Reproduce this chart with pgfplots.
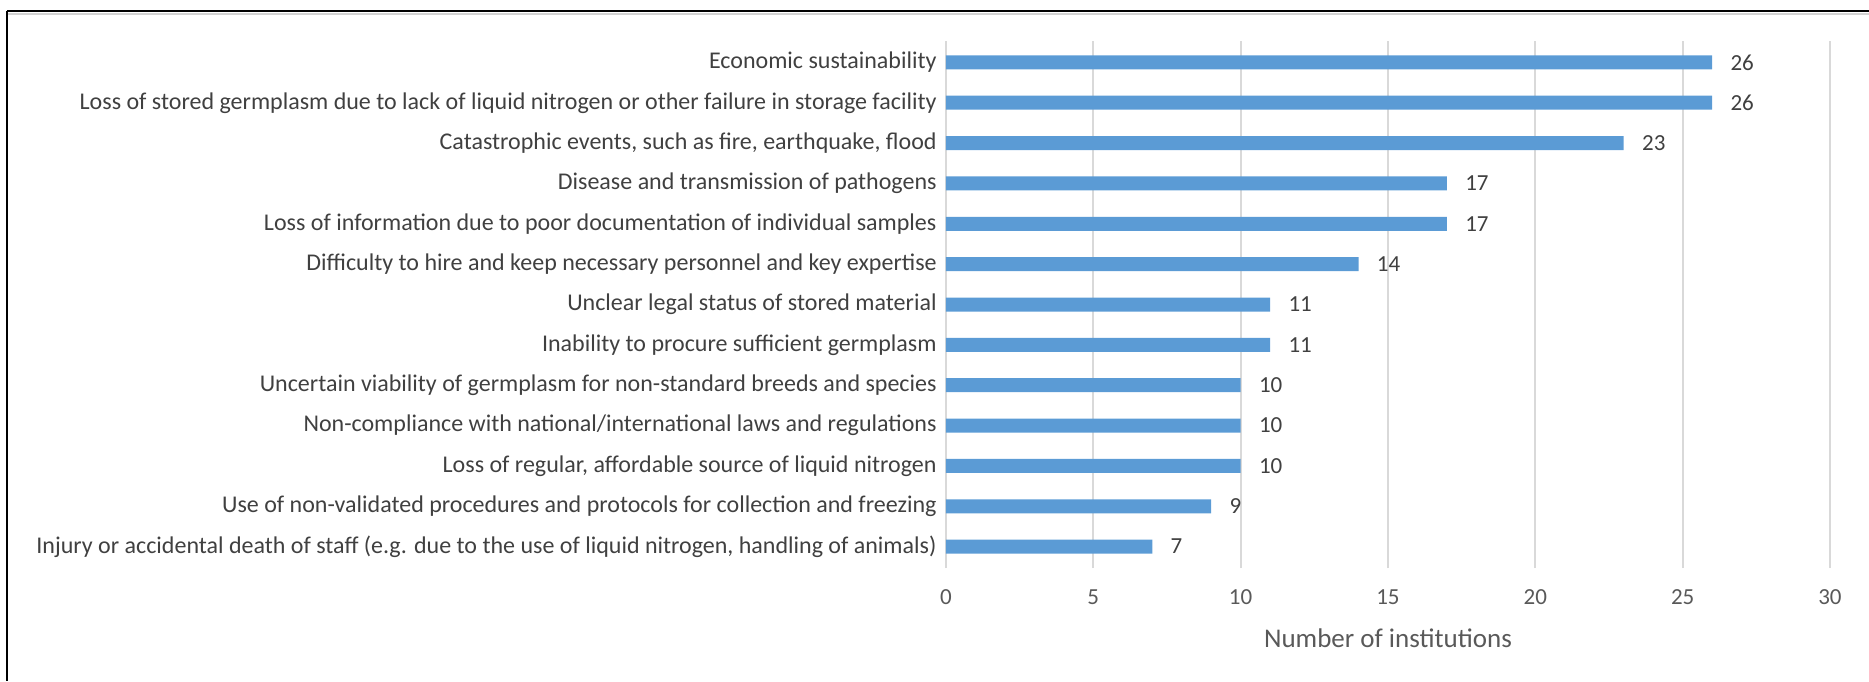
\documentclass[border=0pt]{standalone}
\usepackage{pgfplots}
\pgfplotsset{compat=1.18}
\usepackage{fontspec}
\setmainfont{Carlito}
\definecolor{txt}{HTML}{595959}
\definecolor{lab}{HTML}{404040}
\definecolor{barc}{HTML}{5B9BD5}
\definecolor{grd}{HTML}{D9D9D9}
\begin{document}
\begin{tikzpicture}
\begin{axis}[
  scale only axis, width=442pt, height=263.5pt,
  xbar, bar width=7pt,
  xmin=0, xmax=30, ymin=-0.53, ymax=12.53,
  xtick={0,5,...,30}, ytick={0,...,12},
  /pgf/number format/assume math mode=true,
  yticklabels={
    {Injury or accidental death of staff (e.g. due to the use of liquid nitrogen, handling of animals)},
    {Use of non-validated procedures and protocols for collection and freezing},
    {Loss of regular, affordable source of liquid nitrogen},
    {Non-compliance with national/international laws and regulations},
    {Uncertain viability of germplasm for non-standard breeds and species},
    {Inability to procure sufficient germplasm},
    {Unclear legal status of stored material},
    {Difficulty to hire and keep necessary personnel and key expertise},
    {Loss of information due to poor documentation of individual samples},
    {Disease and transmission of pathogens},
    {Catastrophic events, such as fire, earthquake, flood},
    {Loss of stored germplasm due to lack of liquid nitrogen or other failure in storage facility},
    {Economic sustainability}},
  axis lines*=left, axis line style={draw=none},
  major tick length=0pt,
  xmajorgrids, major grid style={draw=grd, line width=0.9pt},
  xticklabel style={font=\fontsize{11.5}{13}\selectfont, text=txt, anchor=center, yshift=-14.5pt},
  yticklabel style={font=\fontsize{12}{14}\selectfont, text=lab, anchor=east, inner sep=0pt, xshift=-4.5pt},
  xlabel={Number of institutions},
  xlabel style={font=\fontsize{13.5}{15}\selectfont, text=txt, at={(axis description cs:0.5,0)}, anchor=center, yshift=-35pt},
  nodes near coords,
  nodes near coords style={font=\fontsize{11.5}{13}\selectfont, text=lab, anchor=west, inner sep=0pt, xshift=9pt},
  clip=false,
]
\addplot[draw=none, fill=barc] coordinates {
  (7,0) (9,1) (10,2) (10,3) (10,4) (11,5) (11,6) (14,7) (17,8) (17,9) (23,10) (26,11) (26,12)
};
\end{axis}
\draw[gray!35, line width=0.8pt] (-469.5pt,277pt) -- (461.5pt,277pt);
\draw[black, line width=1pt] (-469.5pt,278.5pt) -- (461.5pt,278.5pt);
\draw[black, line width=1pt] (-469.5pt,278.5pt) -- (-469.5pt,-56.5pt);
\pgfresetboundingbox
\path[use as bounding box] (-473pt,-56.5pt) rectangle (461.5pt,284pt);
\end{tikzpicture}
\end{document}
